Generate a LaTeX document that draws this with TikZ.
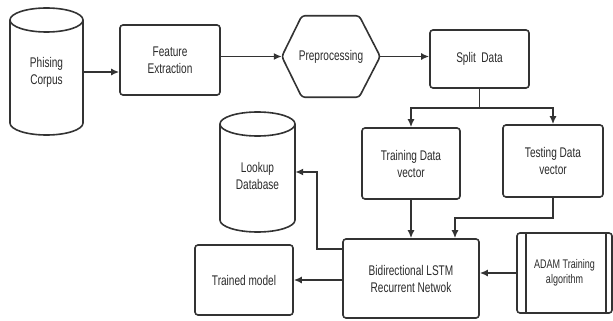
\documentclass[tikz,border=0pt]{standalone}
\usepackage{fontspec}
\setmainfont[FakeStretch=0.72]{Liberation Sans}
\usetikzlibrary{arrows.meta,calc}
\definecolor{ln}{HTML}{333333}
\definecolor{tx}{HTML}{2A2A2A}
\begin{document}
\begin{tikzpicture}[x=1pt,y=-1pt,
  box/.style={draw=ln, line width=1.6pt, rounded corners=3pt, align=center, font=\fontsize{14}{17}\selectfont, text=tx, inner sep=0pt},
  lbl/.style={align=center, font=\fontsize{14}{17}\selectfont, text=tx, inner sep=0pt},
  cyl/.style={draw=ln, line width=1.6pt},
  arr/.style={draw=ln, line width=1.6pt, -{Latex[length=8pt,width=7pt]}},
  wire/.style={draw=ln, line width=1.6pt}]
\useasboundingbox (0,0) rectangle (613,321);
% Phising Corpus cylinder
\draw[cyl] (46.5,20) ellipse [x radius=36.5pt, y radius=12pt];
\draw[cyl] (10,20) -- (10,123) arc[start angle=180, end angle=360, x radius=36.5pt, y radius=12pt] -- (83,20);
\node[lbl, minimum width=73pt, minimum height=100pt] (corpus) at (46.5,72) {Phising\\Corpus};
% Lookup Database cylinder
\draw[cyl] (257.5,124) ellipse [x radius=37.5pt, y radius=12pt];
\draw[cyl] (220,124) -- (220,220) arc[start angle=180, end angle=360, x radius=37.5pt, y radius=12pt] -- (295,124);
\node[lbl, minimum width=75pt, minimum height=80pt] (lookup) at (257.5,176) {Lookup\\Database};
% boxes
\node[box, minimum width=100pt, minimum height=70pt] (feat) at (170,60) {Feature\\Extraction};
\node[lbl, minimum width=98pt, minimum height=81pt] (prep) at (331,56.5) {Preprocessing};
\draw[wire, rounded corners=3pt] (prep.west) -- ([xshift=20pt]prep.north west) -- ([xshift=-21pt]prep.north east) -- (prep.east) -- ([xshift=-21pt]prep.south east) -- ([xshift=20pt]prep.south west) -- cycle;
\node[box, minimum width=99pt, minimum height=58pt] (split) at (479.5,59) {Split\ \ Data};
\node[box, minimum width=98pt, minimum height=71pt] (train) at (411,163.5) {Training Data\\vector};
\node[box, minimum width=100pt, minimum height=72pt] (test) at (553,161) {Testing Data\\vector};
\node[box, minimum width=136pt, minimum height=79pt] (bilstm) at (411,278.5) {Bidirectional LSTM\\Recurrent Netwok};
\node[box, minimum width=98pt, minimum height=70pt] (model) at (244,280) {Trained model};
\node[box, minimum width=95pt, minimum height=80pt, font=\fontsize{12.5}{15.5}\selectfont] (adam) at (564.5,273) {ADAM Training\\algorithm};
\draw[wire] ([xshift=10pt]adam.north west) -- ([xshift=10pt]adam.south west);
\draw[wire] ([xshift=-7pt]adam.north east) -- ([xshift=-7pt]adam.south east);
% connectors
\draw[arr] (corpus.east) -- (corpus.east -| feat.west);
\draw[arr] (feat.east |- prep.west) -- (prep.west);
\draw[arr] (prep.east) -- (prep.east -| split.west);
\draw[wire] (split.south) -- ++(0,19) coordinate (br);
\draw[arr] (br) -| (train.north);
\draw[arr] (br) -| (test.north);
\draw[arr] (train.south) -- (train.south |- bilstm.north);
\draw[arr] (test.south) -- ++(0,20) -| ([xshift=44pt]bilstm.north);
\draw[arr] (adam.west) -- (adam.west -| bilstm.east);
\draw[arr] (bilstm.west |- model.east) -- (model.east);
\draw[arr] ([yshift=-11pt]bilstm.north west) -- ++(-25,0) |- ([yshift=4pt]lookup.east);
\end{tikzpicture}
\end{document}
